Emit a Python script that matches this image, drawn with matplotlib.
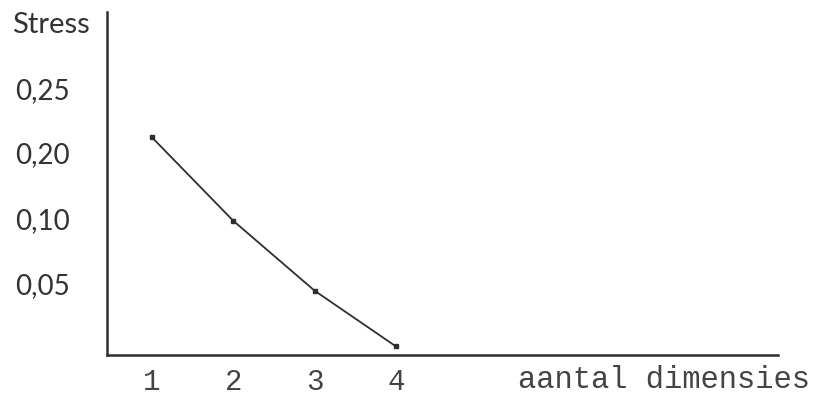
import numpy as np
import matplotlib
matplotlib.use("Agg")
import matplotlib.pyplot as plt

# data
dimensions = [1, 2, 3, 4]
stress = [0.212, 0.098, 0.045, 0.006]

y_tick_values = [0.05, 0.10, 0.20, 0.25]
y_tick_labels = ["0,05", "0,10", "0,20", "0,25"]
x_tick_labels = ["1", "2", "3", "4"]

# the printed y axis is not linear: labels sit at equal steps
scale_vals = [0.0, 0.05, 0.10, 0.20, 0.25, 0.30]
scale_pos = [0.0, 71.0, 136.0, 201.0, 265.0, 341.0]


def forward(v):
    return np.interp(v, scale_vals, scale_pos)


def inverse(p):
    return np.interp(p, scale_pos, scale_vals)


ink = "#2e2e2e"

fig = plt.figure(figsize=(8.21, 3.95), dpi=100)
ax = fig.add_axes([107 / 821, 1 - 355 / 395, (778 - 107) / 821, (355 - 12) / 395])

ax.set_yscale("function", functions=(forward, inverse))
ax.plot(dimensions, stress, color=ink, lw=1.3, marker="s", ms=3.5,
        mfc=ink, mec=ink)

ax.set_xlim(0.447, 8.697)
ax.set_ylim(0.0, 0.30)

ax.set_yticks(y_tick_values)
ax.set_yticklabels(y_tick_labels, fontfamily="Lato", fontsize=20, color="#333333")
ax.set_xticks(dimensions)
ax.set_xticklabels(x_tick_labels, fontfamily="Liberation Mono", fontsize=21,
                   color="#444444")
ax.tick_params(axis="y", length=0, pad=27)
ax.tick_params(axis="x", length=0, pad=9)

for side in ["top", "right"]:
    ax.spines[side].set_visible(False)
for side in ["left", "bottom"]:
    ax.spines[side].set_color(ink)
    ax.spines[side].set_linewidth(1.8)

fig.text(12 / 821, 1 - 25 / 395, "Stress", fontfamily="Lato", fontsize=21,
         color="#333333", va="center", ha="left")
fig.text(518 / 821, 1 - 388 / 395, "aantal dimensies", fontfamily="Liberation Mono",
         fontsize=22, color="#444444", va="baseline", ha="left")

fig.savefig("out.png", dpi=100)
